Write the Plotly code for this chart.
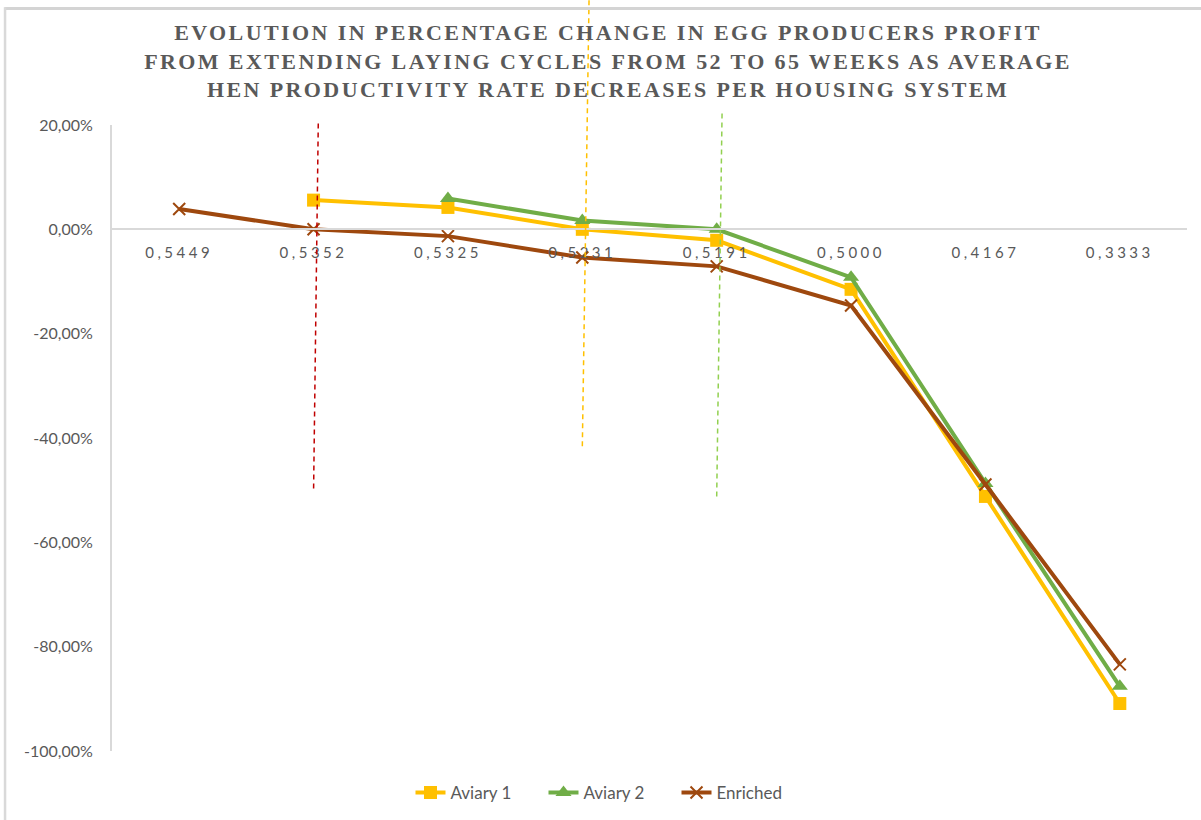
import plotly.graph_objects as go

# Average hen productivity rate (category labels as shown on the axis)
productivity = ["0,5449", "0,5352", "0,5325", "0,5231", "0,5191", "0,5000", "0,4167", "0,3333"]

# Percentage change in producers' profit (52 -> 65 week laying cycle)
aviary_1 = [None, 5.6, 4.2, 0.0, -2.1, -11.5, -51.2, -90.9]
aviary_2 = [None, None, 5.9, 1.7, 0.0, -9.2, -48.7, -87.6]
enriched = [3.9, 0.0, -1.3, -5.4, -7.1, -14.6, -48.9, -83.4]

y_ticks = [20, 0, -20, -40, -60, -80, -100]
y_tick_text = ["20,00%", "0,00%", "-20,00%", "-40,00%", "-60,00%", "-80,00%", "-100,00%"]
Y_MIN, Y_MAX = -100, 20

# Break-even markers: (category index, colour, top value, bottom value, lean)
markers = [
    (1, "#C00000", 20.3, -50.4, 0.035),
    (3, "#FFC000", 43.9, -41.8, 0.05),
    (4, "#92D050", 22.2, -51.4, 0.04),
]

GREY = "#595959"
AXIS = "#D9D9D9"

fig = go.Figure()

fig.add_trace(go.Scatter(
    x=productivity, y=aviary_1, name="Aviary 1", mode="lines+markers",
    line=dict(color="#FFC000", width=4),
    marker=dict(symbol="square", size=13, color="#FFC000"),
))
fig.add_trace(go.Scatter(
    x=productivity, y=aviary_2, name="Aviary 2", mode="lines+markers",
    line=dict(color="#70AD47", width=4),
    marker=dict(symbol="triangle-up", size=14, color="#70AD47"),
))
fig.add_trace(go.Scatter(
    x=productivity, y=enriched, name="Enriched", mode="lines+markers",
    line=dict(color="#9E480E", width=4),
    marker=dict(symbol="x-thin-open", size=12, color="#9E480E",
                line=dict(color="#B8561A", width=2)),
))


def to_paper(v):
    return (v - Y_MIN) / (Y_MAX - Y_MIN)


shapes = []
for idx, color, top, bottom, lean in markers:
    shapes.append(dict(
        type="line", xref="x", yref="paper",
        x0=idx + lean, y0=to_paper(top), x1=idx, y1=to_paper(bottom),
        line=dict(color=color, width=1.5, dash="5px,4px"),
        layer="above",
    ))

# Chart-area frame (top and left edges)
shapes.append(dict(type="line", xref="paper", yref="paper",
                   x0=-0.1, x1=1.03, y0=1.186, y1=1.186,
                   line=dict(color="#D4D4D4", width=3), layer="above"))
shapes.append(dict(type="line", xref="paper", yref="paper",
                   x0=-0.0995, x1=-0.0995, y0=1.188, y1=-0.2,
                   line=dict(color=AXIS, width=2.5), layer="above"))

fig.update_layout(
    width=1201, height=820,
    margin=dict(l=112, r=14, t=125, b=69, autoexpand=False),
    paper_bgcolor="white", plot_bgcolor="white",
    font=dict(family="Lato", color=GREY),
    title=dict(
        text="EVOLUTION IN PERCENTAGE CHANGE IN EGG PRODUCERS PROFIT<br>"
             "FROM EXTENDING LAYING CYCLES FROM 52 TO 65 WEEKS AS AVERAGE<br>"
             "HEN PRODUCTIVITY RATE DECREASES PER HOUSING SYSTEM",
        font=dict(family="Liberation Serif", size=22, color=GREY, weight="bold"),
        x=608 / 1201, xanchor="center", xref="container",
        y=1 - 40 / 820, yanchor="top", yref="container",
    ),
    xaxis=dict(
        type="category",
        categoryorder="array", categoryarray=productivity,
        range=[-0.5, len(productivity) - 0.5],
        anchor="free", position=to_paper(0),
        showline=True, linecolor=AXIS, linewidth=2,
        showgrid=False, zeroline=False, ticks="",
        tickfont=dict(family="Lato", size=15, color=GREY),
        ticklabelstandoff=10,
    ),
    yaxis=dict(
        range=[Y_MIN, Y_MAX],
        tickvals=y_ticks, ticktext=y_tick_text,
        showline=True, linecolor=AXIS, linewidth=2,
        showgrid=False, zeroline=False, ticks="",
        tickfont=dict(family="Lato", size=16, color=GREY),
        ticklabelstandoff=14,
    ),
    legend=dict(
        orientation="h", xref="container", yref="container",
        x=610 / 1201, xanchor="center", y=27 / 820, yanchor="middle",
        font=dict(family="Lato", size=17, color=GREY),
        entrywidth=88, entrywidthmode="pixels",
    ),
    shapes=shapes,
    showlegend=True,
)

post = """
var gd = document.getElementById('{plot_id}');
function spacing() {
  gd.querySelectorAll('.gtitle').forEach(function (e) { e.style.letterSpacing = '2.4px'; });
  gd.querySelectorAll('.xtick text').forEach(function (e) { e.style.letterSpacing = '3.5px'; });
}
spacing();
gd.on('plotly_afterplot', spacing);
"""

fig.write_html("out.html", post_script=post)
